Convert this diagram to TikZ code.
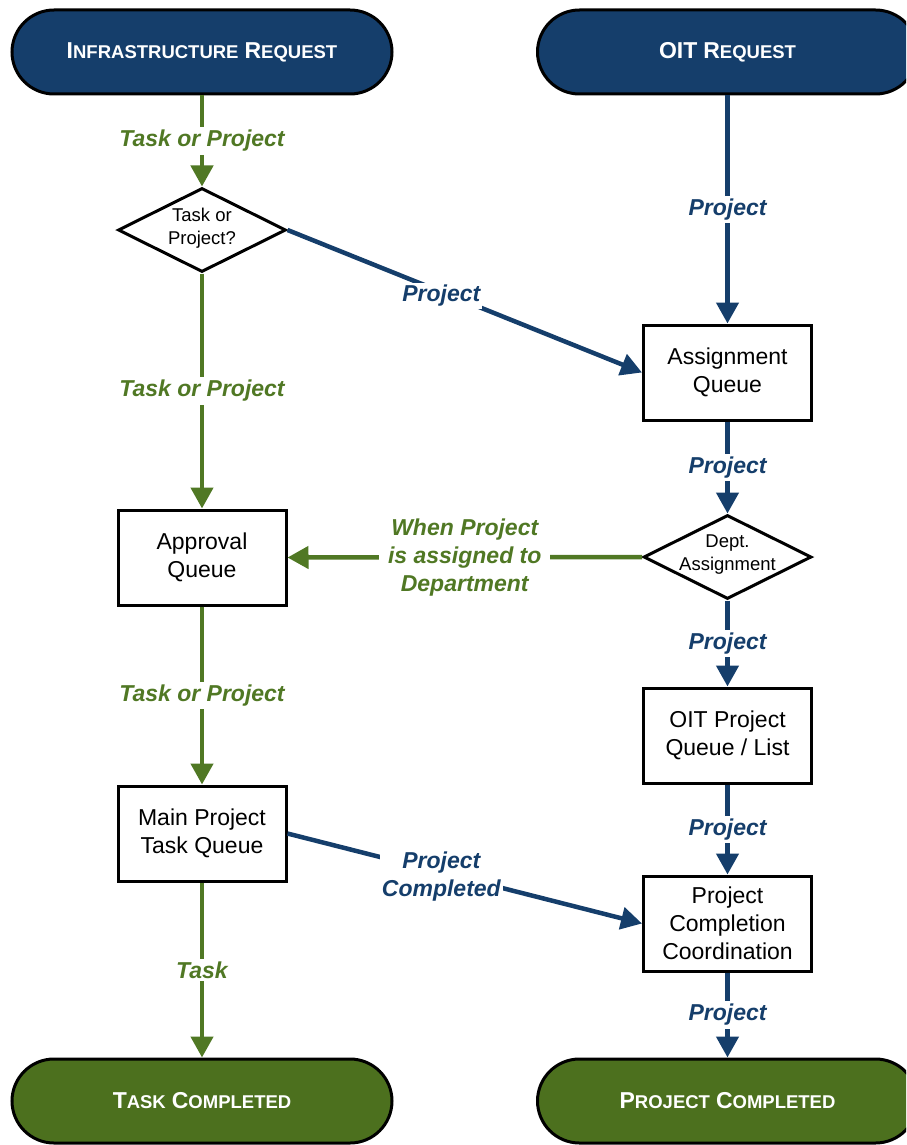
\documentclass[tikz,border=0pt]{standalone}
\usepackage{fontspec}
\setmainfont{Liberation Sans}
\usetikzlibrary{arrows.meta,shapes.geometric}

\definecolor{oitblue}{RGB}{21,62,107}
\definecolor{infgreen}{RGB}{76,112,30}
\definecolor{lblgreen}{RGB}{80,120,36}

% fake small caps: large initial, smaller remaining capitals
\newcommand\capword[2]{{\fontsize{23}{27}\selectfont #1}{\fontsize{18.5}{27}\selectfont #2}}
\newcommand\capgap{\hspace{6pt}}

\begin{document}
\begin{tikzpicture}[x=1pt,y=-1pt,
  terminal/.style={draw=black, line width=3pt, rounded corners=42pt,
    minimum width=380pt, minimum height=84pt, text=white, font=\bfseries},
  process/.style={draw=black, line width=3pt, fill=white, minimum width=168pt,
    minimum height=95pt, align=center, inner sep=2pt,
    font=\fontsize{23}{28}\selectfont},
  decision/.style={draw=black, diamond, line width=3pt, fill=white,
    minimum width=168pt, minimum height=84pt, inner sep=0pt},
  dtext/.style={align=center, inner sep=0pt, yshift=2pt,
    font=\fontsize{18.5}{23}\selectfont},
  flow/.style={line width=4.5pt, -{Triangle[length=21pt,width=22pt]}},
  gflow/.style={flow, draw=lblgreen},
  bflow/.style={flow, draw=oitblue},
  lbl/.style={fill=white, inner sep=3pt, align=center,
    font=\fontsize{23}{28}\selectfont\bfseries\itshape},
  glbl/.style={lbl, text=lblgreen},
  blbl/.style={lbl, text=oitblue}
]
\useasboundingbox (0,0) rectangle (906,1145);
\clip (0,0) rectangle (906,1145);

% start and end terminals
\node[terminal, fill=oitblue] (infra) at (202,52)
  {\capword{I}{NFRASTRUCTURE}\capgap\capword{R}{EQUEST}};
\node[terminal, fill=oitblue] (oit) at (727.5,52)
  {\capword{OIT}{}\capgap\capword{R}{EQUEST}};
\node[terminal, fill=infgreen] (taskdone) at (202,1101)
  {\capword{T}{ASK}\capgap\capword{C}{OMPLETED}};
\node[terminal, fill=infgreen] (projdone) at (727.5,1101)
  {\capword{P}{ROJECT}\capgap\capword{C}{OMPLETED}};

% decisions
\node[decision, label={[dtext]center:Task or\\Project?}] (tp) at (202,230) {};
\node[decision, label={[dtext]center:Dept.\\Assignment}] (dept) at (727.5,557) {};

% queues
\node[process] (assign) at (727.5,372.5) {Assignment\\Queue};
\node[process] (approval) at (202,557.5) {Approval\\Queue};
\node[process] (oitq) at (727.5,735.5) {OIT Project\\Queue / List};
\node[process] (mainq) at (202,833.5) {Main Project\\Task Queue};
\node[process] (pcc) at (727.5,923.5) {Project\\Completion\\Coordination};

% infrastructure path
\draw[gflow] (infra) -- node[glbl] (l1) {Task or Project} (tp);
\draw[gflow] (tp) -- node[glbl] (l2) {Task or Project} (approval);
\draw[gflow] (approval) -- node[glbl] (l3) {Task or Project} (mainq);
\draw[gflow] (mainq) -- node[glbl] (l4) {Task} (taskdone);
\draw[bflow] (tp.east) -- node[blbl, pos=0.434, inner sep=2pt, yshift=-4pt] (l5) {Project} (assign.west);
\draw[bflow] (mainq.east) -- node[blbl, pos=0.434, inner sep=2pt, yshift=-4pt] (l6) {Project\\Completed} (pcc.west);
\draw[gflow] (dept.west) -- node[glbl, inner xsep=9pt] (l7) {When Project\\is assigned to\\Department} (approval.east);

% OIT path
\draw[bflow] (oit) -- node[blbl] (r1) {Project} (assign);
\draw[bflow] (assign) -- node[blbl] (r2) {Project} (dept);
\draw[bflow] (dept) -- node[blbl] (r3) {Project} (oitq);
\draw[bflow] (oitq) -- node[blbl] (r4) {Project} (pcc);
\draw[bflow] (pcc) -- node[blbl] (r5) {Project} (projdone);
\end{tikzpicture}
\end{document}
